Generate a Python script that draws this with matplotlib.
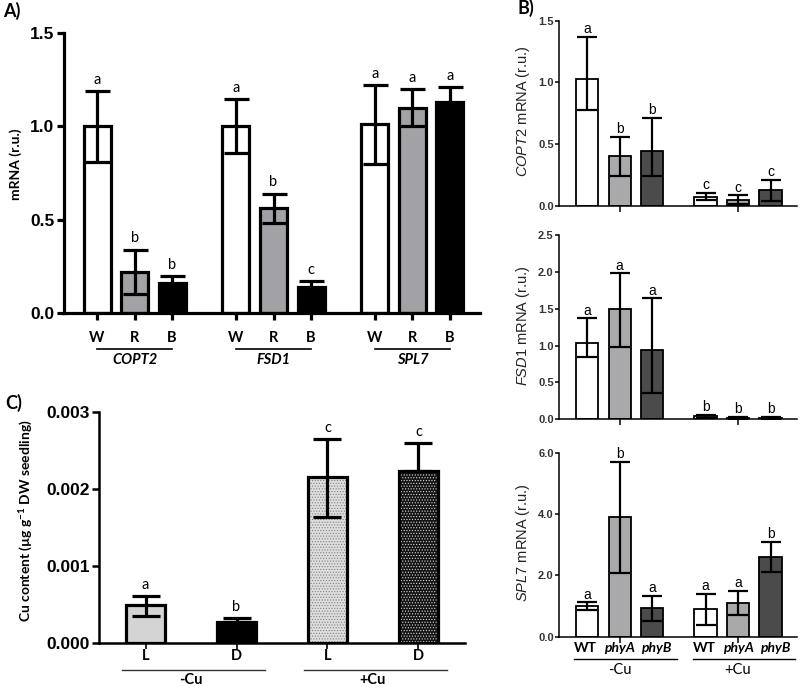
import numpy as np
import matplotlib.pyplot as plt

plt.rcParams["mathtext.fontset"] = "custom"
plt.rcParams["mathtext.rm"] = "Liberation Sans"
plt.rcParams["mathtext.it"] = "Liberation Sans:italic"
plt.rcParams["mathtext.bf"] = "Lato:bold"
plt.rcParams["hatch.linewidth"] = 0.5

LABEL_FONT = "Lato"
NUM_FONT = "Liberation Sans"
NARROW_FONT = ["Liberation Sans Narrow", "Liberation Sans"]

# ---------------- data ----------------
# Panel A: mRNA under white / red / blue light
genes_a = ["COPT2", "FSD1", "SPL7"]
lights_a = ["W", "R", "B"]
copt2_a = [1.00, 0.22, 0.16]
copt2_a_err = [0.19, 0.12, 0.04]
fsd1_a = [1.00, 0.56, 0.14]
fsd1_a_err = [0.145, 0.08, 0.03]
spl7_a = [1.01, 1.10, 1.13]
spl7_a_err = [0.21, 0.10, 0.08]
letters_a = ["a", "b", "b", "a", "b", "c", "a", "a", "a"]

# Panel B: WT / phyA / phyB, -Cu then +Cu
genotypes_b = ["WT", "phyA", "phyB"]
cu_groups = ["-Cu", "+Cu"]
copt2_b = [1.03, 0.40, 0.44, 0.07, 0.05, 0.13]
copt2_b_hi = [1.37, 0.56, 0.71, 0.105, 0.085, 0.21]
copt2_b_lo = [0.78, 0.24, 0.24, 0.045, 0.01, 0.04]
copt2_b_letters = ["a", "b", "b", "c", "c", "c"]
fsd1_b = [1.03, 1.49, 0.94, 0.04, 0.02, 0.02]
fsd1_b_hi = [1.37, 1.98, 1.64, 0.06, 0.03, 0.03]
fsd1_b_lo = [0.84, 0.985, 0.35, 0.02, 0.01, 0.01]
fsd1_b_letters = ["a", "a", "a", "b", "b", "b"]
spl7_b = [1.01, 3.89, 0.95, 0.89, 1.09, 2.61]
spl7_b_hi = [1.12, 5.71, 1.34, 1.39, 1.49, 3.09]
spl7_b_lo = [0.87, 2.09, 0.51, 0.38, 0.70, 2.12]
spl7_b_letters = ["a", "b", "a", "a", "a", "b"]

# Panel C: Cu content, light / dark
conds_c = ["L", "D", "L", "D"]
cu_c = [0.000491, 0.000274, 0.002154, 0.002236]
cu_c_hi = [0.000612, 0.000321, 0.002653, 0.002596]
cu_c_lo = [0.000352, 0.000274, 0.001641, 0.002236]
letters_c = ["a", "b", "c", "c"]

# ---------------- figure ----------------
fig = plt.figure(figsize=(8, 6.86), dpi=100)
axA = fig.add_axes([0.08, 0.5437, 0.52, 0.4082])
axB1 = fig.add_axes([0.699, 0.7001, 0.2975, 0.2697])
axB2 = fig.add_axes([0.699, 0.3888, 0.2975, 0.2686])
axB3 = fig.add_axes([0.699, 0.0719, 0.2975, 0.2682])
axC = fig.add_axes([0.124, 0.0631, 0.457, 0.3359])

fig.text(0.004, 0.984, "A)", fontsize=13, fontweight="bold", family=LABEL_FONT, va="center")
fig.text(0.647, 0.988, "B)", fontsize=13, fontweight="bold", family=LABEL_FONT, va="center")
fig.text(0.006, 0.4125, "C)", fontsize=13, fontweight="bold", family=LABEL_FONT, va="center")


def style_axis(ax, lw):
    ax.spines["top"].set_visible(False)
    ax.spines["right"].set_visible(False)
    ax.spines["left"].set_linewidth(lw)
    ax.spines["bottom"].set_linewidth(lw)


# --- Panel A ---
colors_a = ["white", "#a2a2a6", "black"]
pos_a = (np.arange(3)[:, None] * 3.7 + np.arange(3)[None, :]).ravel()
vals_a = np.array(copt2_a + fsd1_a + spl7_a)
errs_a = np.array(copt2_a_err + fsd1_a_err + spl7_a_err)
axA.bar(pos_a, vals_a, width=0.72, color=colors_a * 3, edgecolor="black",
        linewidth=2.3, zorder=2)
axA.errorbar(pos_a, vals_a, yerr=errs_a, fmt="none", ecolor="black",
             elinewidth=2.3, capsize=9, capthick=2.3, zorder=3)
for x, top, letter in zip(pos_a, vals_a + errs_a, letters_a):
    axA.annotate(letter, (x, top), xytext=(0, 3), textcoords="offset points",
                 ha="center", va="bottom", fontsize=10.5, family=LABEL_FONT)
style_axis(axA, 2.3)
axA.set_xlim(-0.88, 10.2)
axA.set_ylim(0, 1.5)
axA.set_yticks([0, 0.5, 1.0, 1.5])
axA.set_yticklabels(["0.0", "0.5", "1.0", "1.5"], fontsize=12.5,
                    fontweight="bold", family=NUM_FONT)
axA.tick_params(axis="y", length=5, width=2.3, pad=2)
axA.set_xticks(pos_a)
axA.set_xticklabels([])
axA.tick_params(axis="x", length=5, width=2.3)
tA = axA.get_xaxis_transform()
for x, lab in zip(pos_a, lights_a * 3):
    axA.text(x, -0.089, lab, transform=tA, ha="center", va="center",
             fontsize=10.5, fontweight="bold", family=LABEL_FONT)
for g, gene in enumerate(genes_a):
    xs = pos_a[g * 3:(g + 1) * 3]
    axA.plot([xs[0], xs[-1]], [-0.128, -0.128], transform=tA, color="black",
             lw=1.2, clip_on=False)
    axA.text(xs[1], -0.168, gene, transform=tA, ha="center", va="center",
             fontsize=10.5, fontweight="bold", fontstyle="italic", family=LABEL_FONT)
axA.set_ylabel("mRNA (r.u.)", fontsize=10, fontweight="bold", family=LABEL_FONT)
axA.yaxis.set_label_coords(-0.10, 0.53)

# --- Panel B ---
colors_b = ["white", "#a9a9ab", "#4b4b4b"]
pos_b = (np.arange(2)[:, None] * 3.64 + np.arange(3)[None, :]).ravel()
panels_b = [
    (axB1, copt2_b, copt2_b_hi, copt2_b_lo, copt2_b_letters, "COPT2", 1.5, 0.5),
    (axB2, fsd1_b, fsd1_b_hi, fsd1_b_lo, fsd1_b_letters, "FSD1", 2.5, 0.5),
    (axB3, spl7_b, spl7_b_hi, spl7_b_lo, spl7_b_letters, "SPL7", 6.0, 2.0),
]
for ax, vals, hi, lo, letters, gene, ymax, step in panels_b:
    vals = np.array(vals)
    hi = np.array(hi)
    lo = np.array(lo)
    ax.bar(pos_b, vals, width=0.68, color=colors_b * 2, edgecolor="black",
           linewidth=1.3, zorder=2)
    ax.errorbar(pos_b, vals, yerr=[vals - lo, hi - vals], fmt="none",
                ecolor="black", elinewidth=1.6, capsize=7.5, capthick=1.6, zorder=3)
    for x, top, letter in zip(pos_b, hi, letters):
        ax.annotate(letter, (x, top), xytext=(0, 0.5), textcoords="offset points",
                    ha="center", va="bottom", fontsize=10, family=NUM_FONT)
    style_axis(ax, 1.1)
    ax.set_xlim(-0.86, 6.46)
    ax.set_ylim(0, ymax)
    ticks = np.arange(0, ymax + step / 2, step)
    ax.set_yticks(ticks)
    ax.set_yticklabels([f"{t:.1f}" for t in ticks])
    for lab in ax.get_yticklabels():
        lab.set_fontfamily(NARROW_FONT)
        lab.set_fontweight("bold")
        lab.set_fontsize(8)
        lab.set_color("#333333")
    ax.tick_params(axis="y", length=3, width=1.1, pad=1)
    ax.set_xticks([pos_b[1], pos_b[4]])
    ax.set_xticklabels([])
    ax.tick_params(axis="x", length=4, width=1.1)
    ax.set_ylabel(rf"$\mathit{{{gene}}}$ mRNA (r.u.)", fontsize=10.5,
                  family=NUM_FONT, color="#222222")
    ax.yaxis.set_label_coords(-0.113, 0.51)

tB = axB3.get_xaxis_transform()
shift_b = [-1, 0, 3]  # small nudges (points) so the genotype labels don't touch
for i, (x, lab) in enumerate(zip(pos_b, genotypes_b * 2)):
    axB3.annotate(lab, (x, -0.06), xycoords=tB, xytext=(shift_b[i % 3], 0),
                  textcoords="offset points", ha="center", va="center",
                  fontsize=10, fontweight="bold", family=LABEL_FONT,
                  fontstyle="normal" if lab == "WT" else "italic",
                  annotation_clip=False)
for g, grp in enumerate(cu_groups):
    xs = pos_b[g * 3:(g + 1) * 3]
    axB3.plot([xs[0] - 0.4, xs[-1] + 0.75], [-0.121, -0.121], transform=tB,
              color="black", lw=1.0, clip_on=False)
    axB3.text(xs[1], -0.181, grp, transform=tB, ha="center", va="center",
              fontsize=10.5, family=LABEL_FONT)

# --- Panel C ---
pos_c = np.arange(4)
vals_c = np.array(cu_c)
faces_c = ["#d4d4d4", "black", "#dedede", "#141414"]
hatch_c = [None, None, "......", "......"]
hatch_col_c = ["#d4d4d4", "black", "#808080", "#d8d8d8"]
for x, v, fc, h, hc in zip(pos_c, vals_c, faces_c, hatch_c, hatch_col_c):
    axC.bar(x, v, width=0.42, color=fc, hatch=h, edgecolor=hc, linewidth=0,
            zorder=2)
axC.bar(pos_c, vals_c, width=0.42, fill=False, edgecolor="black",
        linewidth=2.3, zorder=2)
axC.errorbar(pos_c, vals_c, yerr=[vals_c - np.array(cu_c_lo), np.array(cu_c_hi) - vals_c],
             fmt="none", ecolor="black", elinewidth=2.3, capsize=10, capthick=2.3,
             zorder=3)
for x, top, letter in zip(pos_c, cu_c_hi, letters_c):
    axC.annotate(letter, (x, top), xytext=(0, 3), textcoords="offset points",
                 ha="center", va="bottom", fontsize=10.5, family=LABEL_FONT)
style_axis(axC, 1.8)
axC.set_xlim(-0.51, 3.51)
axC.set_ylim(0, 0.003)
axC.set_yticks([0, 0.001, 0.002, 0.003])
axC.set_yticklabels(["0.000", "0.001", "0.002", "0.003"], fontsize=12.5,
                    fontweight="bold", family=NUM_FONT)
axC.tick_params(axis="y", length=5, width=1.8, pad=2)
axC.set_xticks(pos_c)
axC.set_xticklabels([])
axC.tick_params(axis="x", length=4, width=1.2)
tC = axC.get_xaxis_transform()
for x, lab in zip(pos_c, conds_c):
    axC.text(x, -0.058, lab, transform=tC, ha="center", va="center",
             fontsize=10.5, fontweight="bold", family=LABEL_FONT)
for g, grp in enumerate(cu_groups):
    xs = pos_c[g * 2:(g + 1) * 2]
    axC.plot([xs[0] - 0.26, xs[-1] + 0.31], [-0.118, -0.118], transform=tC,
             color="#333333", lw=1.0, clip_on=False)
    axC.text((xs[0] + xs[-1]) / 2, -0.162, grp, transform=tC, ha="center",
             va="center", fontsize=10.5, fontweight="bold", family=LABEL_FONT)
axC.set_ylabel(r"Cu content (µg g$^{\mathbf{-1}}$ DW seedling)", fontsize=10,
               fontweight="bold", family=LABEL_FONT)
axC.yaxis.set_label_coords(-0.179, 0.53)

fig.savefig("out.png", dpi=100)
